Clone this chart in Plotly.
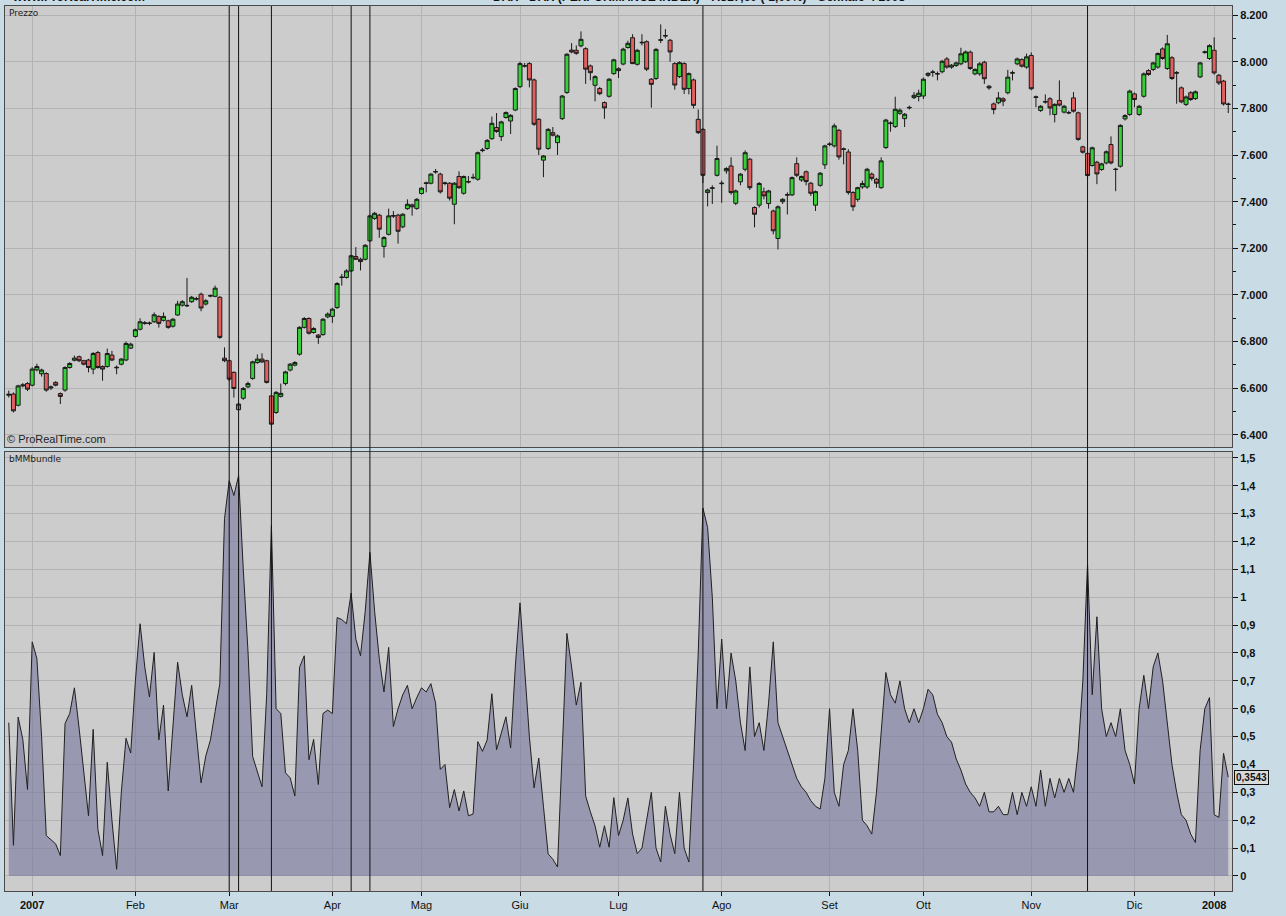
import plotly.graph_objects as go

# --- data ---
# daily candles, index 0 = 21 Dec 2006 ... index 260 = early Jan 2008
open_ = [6570, 6575, 6527, 6610, 6620, 6613, 6679, 6662, 6663, 6601, 6625, 6577, 6592, 6689, 6720, 6735, 6718, 6721, 6682, 6753,
         6693, 6693, 6742, 6690, 6703, 6721, 6772, 6822, 6853, 6878, 6880, 6885, 6908, 6891, 6889, 6866, 6914, 6956, 6953, 6971,
         6982, 7003, 6961, 6995, 6994, 6990, 6729, 6718, 6668, 6508, 6557, 6606, 6642, 6710, 6725, 6718, 6567, 6496, 6565, 6620,
         6678, 6699, 6746, 6861, 6899, 6839, 6828, 6830, 6906, 6908, 6946, 7075, 7075, 7103, 7165, 7153, 7153, 7232, 7328, 7342,
         7208, 7260, 7338, 7342, 7292, 7370, 7386, 7371, 7435, 7478, 7479, 7527, 7518, 7478, 7479, 7389, 7508, 7436, 7484, 7502,
         7496, 7619, 7628, 7670, 7718, 7679, 7761, 7746, 7793, 7893, 7981, 7992, 7922, 7753, 7578, 7628, 7696, 7653, 7756, 7868,
         8050, 8049, 8068, 8056, 7982, 7899, 7885, 7825, 7852, 7949, 7970, 7990, 8061, 8103, 7989, 8081, 8086, 7925, 7928, 8092,
         8110, 8092, 7992, 7936, 7992, 7885, 7922, 7753, 7710, 7439, 7457, 7513, 7477, 7532, 7553, 7393, 7485, 7539, 7582, 7375,
         7385, 7442, 7392, 7360, 7242, 7400, 7428, 7429, 7563, 7493, 7528, 7479, 7385, 7470, 7558, 7645, 7639, 7706, 7624, 7613,
         7439, 7410, 7463, 7463, 7518, 7496, 7460, 7632, 7735, 7722, 7779, 7756, 7802, 7846, 7851, 7853, 7942, 7954, 7947, 7957,
         8012, 7977, 7984, 7991, 8000, 8041, 7948, 7948, 7998, 7895, 7819, 7824, 7841, 7867, 7951, 7991, 8009, 7977, 8027, 7847,
         7791, 7827, 7841, 7774, 7834, 7784, 7780, 7845, 7781, 7635, 7607, 7555, 7569, 7538, 7566, 7645, 7538, 7552, 7755, 7774,
         7862, 7774, 7852, 7962, 7967, 7977, 8055, 7971, 8017, 7951, 7888, 7817, 7867, 7842, 7935, 8040, 8014, 8049, 7942, 7917,
         7817]
high = [6590, 6582, 6615, 6622, 6626, 6690, 6705, 6684, 6668, 6612, 6630, 6582, 6694, 6712, 6740, 6740, 6722, 6726, 6755, 6760,
        6698, 6770, 6760, 6698, 6730, 6800, 6795, 6856, 6900, 6888, 6886, 6925, 6913, 6925, 6894, 6900, 6975, 6978, 7073, 6996,
        6992, 7010, 6982, 7002, 7040, 6995, 6775, 6722, 6672, 6538, 6605, 6628, 6718, 6745, 6750, 6722, 6572, 6588, 6620, 6675,
        6708, 6716, 6866, 6905, 6904, 6862, 6832, 6900, 6925, 6945, 7055, 7090, 7110, 7172, 7205, 7160, 7218, 7344, 7356, 7348,
        7252, 7370, 7360, 7348, 7350, 7410, 7392, 7415, 7462, 7486, 7522, 7540, 7524, 7486, 7484, 7484, 7530, 7512, 7510, 7520,
        7615, 7630, 7668, 7765, 7780, 7747, 7787, 7775, 7890, 8000, 7995, 7998, 7928, 7758, 7600, 7715, 7720, 7688, 7858, 8037,
        8080, 8070, 8130, 8062, 7988, 7942, 7892, 7830, 7930, 8013, 7976, 8060, 8090, 8118, 8055, 8118, 8092, 7930, 8058, 8160,
        8140, 8098, 7998, 8002, 7998, 7954, 7928, 7795, 7715, 7456, 7470, 7640, 7490, 7548, 7590, 7452, 7522, 7620, 7588, 7380,
        7484, 7460, 7451, 7366, 7384, 7415, 7440, 7508, 7590, 7512, 7534, 7485, 7448, 7527, 7644, 7655, 7735, 7712, 7632, 7625,
        7445, 7464, 7490, 7545, 7525, 7502, 7590, 7755, 7745, 7850, 7800, 7780, 7812, 7870, 7880, 7932, 7955, 7965, 7958, 8008,
        8020, 7990, 8000, 8060, 8048, 8048, 7972, 7998, 8004, 7900, 7825, 7870, 7848, 7965, 7962, 8018, 8015, 8035, 8040, 7855,
        7814, 7860, 7848, 7822, 7920, 7815, 7790, 7870, 7786, 7640, 7612, 7636, 7575, 7567, 7620, 7680, 7545, 7732, 7775, 7880,
        7868, 7815, 7954, 7968, 8000, 8040, 8062, 8115, 8024, 7960, 7894, 7855, 7874, 7877, 8000, 8048, 8075, 8105, 7948, 7922,
        7825]
low = [6560, 6496, 6522, 6604, 6588, 6608, 6672, 6650, 6585, 6592, 6608, 6532, 6585, 6684, 6715, 6712, 6698, 6668, 6660, 6684,
       6632, 6688, 6716, 6660, 6698, 6716, 6768, 6817, 6848, 6872, 6870, 6880, 6860, 6886, 6855, 6860, 6910, 6950, 6948, 6966,
       6976, 6930, 6955, 6990, 6990, 6812, 6712, 6630, 6560, 6503, 6550, 6600, 6636, 6705, 6708, 6620, 6440, 6490, 6560, 6612,
       6672, 6694, 6740, 6856, 6830, 6834, 6790, 6825, 6900, 6880, 6940, 7040, 7070, 7098, 7150, 7105, 7148, 7228, 7322, 7245,
       7160, 7255, 7330, 7220, 7286, 7365, 7340, 7365, 7430, 7440, 7474, 7520, 7435, 7470, 7405, 7303, 7455, 7430, 7478, 7496,
       7490, 7612, 7622, 7665, 7695, 7660, 7756, 7690, 7788, 7888, 7975, 7890, 7725, 7600, 7505, 7622, 7680, 7600, 7750, 7862,
       8036, 8030, 8062, 7905, 7920, 7830, 7857, 7755, 7846, 7944, 7930, 7985, 8056, 7990, 7984, 8070, 7960, 7803, 7922, 8080,
       8100, 8000, 7880, 7930, 7862, 7860, 7800, 7690, 7480, 7380, 7390, 7508, 7395, 7520, 7430, 7385, 7470, 7530, 7450, 7290,
       7375, 7410, 7370, 7260, 7195, 7390, 7345, 7424, 7505, 7485, 7470, 7425, 7360, 7464, 7540, 7638, 7632, 7580, 7560, 7430,
       7360, 7400, 7455, 7455, 7490, 7460, 7455, 7626, 7700, 7716, 7772, 7720, 7795, 7840, 7830, 7840, 7935, 7935, 7920, 7950,
       7970, 7970, 7978, 7985, 7995, 7965, 7942, 7940, 7905, 7880, 7775, 7818, 7810, 7860, 7920, 7985, 7975, 7970, 7878, 7805,
       7785, 7820, 7770, 7740, 7808, 7778, 7775, 7782, 7661, 7606, 7500, 7550, 7475, 7532, 7560, 7560, 7445, 7546, 7748, 7768,
       7805, 7768, 7846, 7940, 7960, 7970, 8008, 7965, 7922, 7820, 7822, 7810, 7832, 7836, 7930, 8034, 8008, 7945, 7900, 7812,
       7780]
close = [6574, 6503, 6610, 6614, 6596, 6682, 6693, 6678, 6592, 6605, 6613, 6565, 6689, 6706, 6729, 6718, 6703, 6689, 6749, 6689,
         6682, 6749, 6721, 6688, 6725, 6792, 6789, 6851, 6885, 6880, 6878, 6915, 6878, 6908, 6861, 6896, 6961, 6971, 6955, 6990,
         6984, 6944, 6975, 6997, 7029, 6818, 6718, 6639, 6599, 6532, 6599, 6620, 6713, 6725, 6713, 6625, 6446, 6582, 6578, 6670,
         6703, 6710, 6861, 6899, 6836, 6856, 6818, 6896, 6918, 6939, 7049, 7076, 7103, 7168, 7153, 7143, 7213, 7339, 7350, 7282,
         7246, 7339, 7340, 7273, 7346, 7389, 7378, 7410, 7458, 7480, 7518, 7529, 7442, 7480, 7415, 7479, 7460, 7508, 7486, 7504,
         7610, 7621, 7663, 7736, 7701, 7742, 7782, 7770, 7885, 7992, 7983, 7922, 7732, 7625, 7596, 7710, 7685, 7682, 7853, 8032,
         8042, 8036, 8096, 7968, 7953, 7936, 7863, 7802, 7925, 8008, 7962, 8054, 8079, 7992, 8049, 8083, 7968, 7903, 8053, 8094,
         8112, 8042, 7900, 7996, 7882, 7949, 7813, 7696, 7513, 7450, 7459, 7585, 7479, 7542, 7439, 7446, 7518, 7610, 7460, 7346,
         7478, 7425, 7446, 7275, 7378, 7410, 7430, 7503, 7513, 7508, 7486, 7436, 7443, 7522, 7639, 7647, 7725, 7592, 7626, 7439,
         7378, 7460, 7478, 7539, 7500, 7479, 7575, 7750, 7737, 7796, 7792, 7775, 7804, 7856, 7865, 7925, 7950, 7956, 7949, 8002,
         7977, 7985, 7995, 8034, 8042, 7971, 7967, 7991, 7927, 7888, 7795, 7845, 7831, 7934, 7953, 8012, 7981, 8021, 7884, 7849,
         7809, 7829, 7802, 7817, 7814, 7809, 7782, 7788, 7667, 7612, 7512, 7631, 7519, 7562, 7614, 7566, 7539, 7727, 7769, 7874,
         7838, 7809, 7948, 7945, 7995, 8035, 8014, 8077, 7928, 7953, 7828, 7849, 7838, 7871, 7995, 8042, 8069, 7952, 7909, 7819,
         7818]

bmm = [0.55, 0.11, 0.57, 0.49, 0.31, 0.84, 0.78, 0.50, 0.145, 0.13, 0.115, 0.073, 0.547, 0.583, 0.675, 0.53, 0.36, 0.216, 0.526, 0.168,
       0.073, 0.408, 0.20, 0.024, 0.30, 0.494, 0.441, 0.70, 0.905, 0.75, 0.642, 0.802, 0.488, 0.613, 0.305, 0.55, 0.767, 0.65, 0.571, 0.684,
       0.50, 0.334, 0.43, 0.488, 0.59, 0.69, 1.282, 1.418, 1.365, 1.436, 1.10, 0.808, 0.429, 0.37, 0.32, 0.654, 1.258, 0.60, 0.583, 0.37,
       0.352, 0.287, 0.749, 0.79, 0.417, 0.49, 0.328, 0.583, 0.595, 0.583, 0.927, 0.92, 0.905, 1.015, 0.85, 0.79, 0.95, 1.161, 0.95, 0.78,
       0.66, 0.82, 0.536, 0.60, 0.65, 0.684, 0.60, 0.64, 0.675, 0.66, 0.69, 0.62, 0.382, 0.40, 0.245, 0.31, 0.233, 0.305, 0.216, 0.222,
       0.482, 0.447, 0.488, 0.654, 0.453, 0.512, 0.571, 0.459, 0.75, 0.98, 0.75, 0.50, 0.316, 0.423, 0.25, 0.079, 0.06, 0.032, 0.45, 0.87,
       0.75, 0.613, 0.695, 0.287, 0.23, 0.18, 0.103, 0.18, 0.103, 0.281, 0.145, 0.20, 0.28, 0.15, 0.08, 0.10, 0.20, 0.30, 0.10, 0.05,
       0.25, 0.15, 0.08, 0.30, 0.10, 0.05, 0.40, 0.80, 1.32, 1.25, 1.00, 0.60, 0.85, 0.60, 0.80, 0.70, 0.55, 0.45, 0.75, 0.50,
       0.55, 0.45, 0.62, 0.84, 0.55, 0.50, 0.45, 0.40, 0.35, 0.32, 0.30, 0.27, 0.25, 0.24, 0.35, 0.60, 0.30, 0.25, 0.40, 0.45,
       0.60, 0.45, 0.20, 0.18, 0.15, 0.30, 0.50, 0.73, 0.65, 0.62, 0.70, 0.60, 0.55, 0.60, 0.55, 0.60, 0.67, 0.65, 0.58, 0.55,
       0.50, 0.48, 0.42, 0.38, 0.33, 0.30, 0.28, 0.25, 0.30, 0.23, 0.23, 0.25, 0.22, 0.22, 0.30, 0.22, 0.30, 0.25, 0.32, 0.25,
       0.38, 0.25, 0.35, 0.28, 0.35, 0.30, 0.35, 0.30, 0.45, 0.70, 1.12, 0.65, 0.93, 0.60, 0.50, 0.55, 0.50, 0.60, 0.45, 0.40,
       0.33, 0.60, 0.72, 0.60, 0.75, 0.80, 0.70, 0.55, 0.40, 0.30, 0.22, 0.20, 0.15, 0.12, 0.45, 0.60, 0.64, 0.22, 0.21, 0.44,
       0.3543]

signal_idx = [47, 49, 56, 73, 77, 148, 230]
month_idx = [5, 27, 47, 69, 88, 109, 130, 152, 175, 195, 218, 240, 257]
month_lbl = ['<b>2007</b>', 'Feb', 'Mar', 'Apr', 'Mag', 'Giu', 'Lug', 'Ago', 'Set', 'Ott', 'Nov', 'Dic', '<b>2008</b>']
last_value = 0.3543

idx = list(range(len(close)))

fig = go.Figure()
fig.add_trace(go.Candlestick(
    x=idx, open=open_, high=high, low=low, close=close,
    xaxis='x', yaxis='y', whiskerwidth=0,
    increasing=dict(fillcolor='#38d038', line=dict(color='#1a1a1a', width=1)),
    decreasing=dict(fillcolor='#e25f5f', line=dict(color='#1a1a1a', width=1)),
    showlegend=False, hoverinfo='skip'))
fig.add_trace(go.Scatter(
    x=idx, y=bmm, xaxis='x2', yaxis='y2', mode='lines',
    line=dict(color='#202020', width=1),
    fill='tozeroy', fillcolor='rgba(120,120,160,0.62)',
    showlegend=False, hoverinfo='skip'))

grid = '#b3b3b3'
frame = '#4a4a4a'
tick_font = dict(family='Liberation Sans', size=11, color='#111', weight='bold')
xr = [-0.8, 260.8]

fig.update_layout(
    width=1286, height=916,
    margin=dict(l=5, r=54, t=6, b=25),
    paper_bgcolor='#c9dbe5', plot_bgcolor='#cccccc',
    separators=',.',
    boxgap=0.15, boxgroupgap=0,
    xaxis=dict(domain=[0, 1], anchor='y', range=xr, rangeslider=dict(visible=False),
               tickvals=month_idx, showticklabels=False, showgrid=True, gridcolor=grid,
               showline=True, mirror=True, linecolor=frame, linewidth=1, zeroline=False),
    xaxis2=dict(domain=[0, 1], anchor='y2', range=xr, matches='x',
                tickvals=month_idx, ticktext=month_lbl, ticks='outside', ticklen=4, tickcolor='#111',
                tickfont=dict(family='Liberation Sans', size=11, color='#111'),
                showgrid=True, gridcolor=grid, showline=True, mirror=True,
                linecolor=frame, linewidth=1, zeroline=False),
    yaxis=dict(domain=[0.5017, 1], anchor='x', side='right', range=[6348, 8239],
               tick0=0, dtick=200, tickformat=',d', ticks='outside', ticklen=5, tickcolor='#111',
               tickfont=tick_font, showgrid=True, gridcolor=grid,
               minor=dict(dtick=100, ticks='outside', ticklen=3, tickcolor='#111', showgrid=False),
               showline=True, mirror=True, linecolor=frame, linewidth=1, zeroline=False),
    yaxis2=dict(domain=[0, 0.496], anchor='x2', side='right', range=[-0.054, 1.521],
                tick0=0, dtick=0.1, ticks='outside', ticklen=5, tickcolor='#111',
                tickfont=tick_font, showgrid=True, gridcolor=grid,
                showline=True, mirror=True, linecolor=frame, linewidth=1, zeroline=False),
)

for s in signal_idx:
    fig.add_shape(type='line', xref='x', yref='paper', x0=s, x1=s, y0=0, y1=1,
                  line=dict(color='#111', width=1))

small = dict(family='DejaVu Sans', size=9, color='#222')
fig.add_annotation(text='Prezzo', xref='paper', yref='paper', x=0.002, y=1.0,
                   xanchor='left', yanchor='top', showarrow=False, font=small)
fig.add_annotation(text='bMMbundle', xref='paper', yref='paper', x=0.002, y=0.496,
                   xanchor='left', yanchor='top', showarrow=False, font=small)
fig.add_annotation(text='© ProRealTime.com', xref='paper', yref='paper', x=0.0, y=0.5017,
                   xanchor='left', yanchor='bottom', showarrow=False,
                   font=dict(family='Liberation Sans', size=11, color='#222'))
fig.add_annotation(text='<b>' + f'{last_value:.4f}'.replace('.', ',') + '</b>', xref='paper', yref='y2',
                   x=1.002, y=last_value, xanchor='left', yanchor='middle', showarrow=False,
                   bgcolor='#d9d9d9', bordercolor='#111', borderwidth=1, borderpad=1,
                   font=dict(family='Liberation Sans', size=10, color='#111'))
# header text, mostly cut off by the top of the window in the original
fig.add_annotation(text='<b>www.ProRealTime.com</b>', xref='paper', yref='paper', x=0.004, y=0.9995,
                   xanchor='left', yanchor='bottom', showarrow=False,
                   font=dict(family='Liberation Sans', size=12, color='#111'))
fig.add_annotation(text='<b>DAX - DAX (PERFORMANCE INDEX) - 7.817,60 (-1,00%) - Gennaio 4 2008</b>',
                   xref='paper', yref='paper', x=0.396, y=0.9995, xanchor='left', yanchor='bottom',
                   showarrow=False, font=dict(family='Liberation Sans', size=12, color='#111'))

# the page body has a default 8px margin; remove it so the chart sits at the window corner
fig.write_html('out.html', config={'displayModeBar': False},
               post_script="document.body.style.margin='0';")
